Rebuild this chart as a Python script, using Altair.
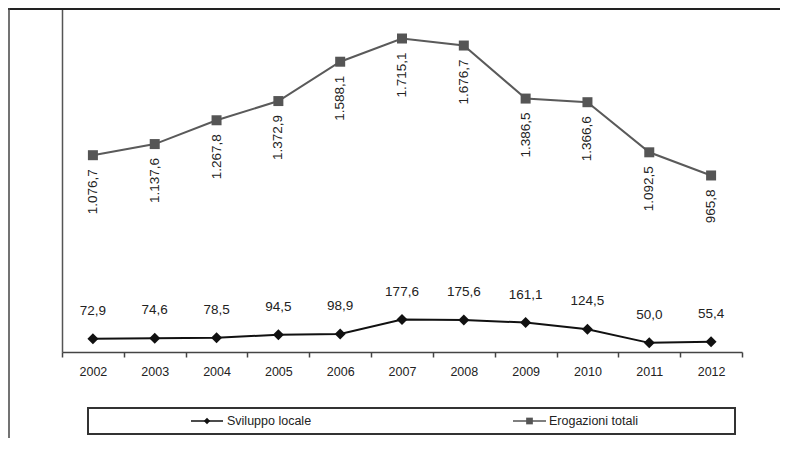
import altair as alt
import pandas as pd

FONT = "Liberation Sans"

years = ["2002", "2003", "2004", "2005", "2006", "2007", "2008", "2009", "2010", "2011", "2012"]
sviluppo = [72.9, 74.6, 78.5, 94.5, 98.9, 177.6, 175.6, 161.1, 124.5, 50.0, 55.4]
erogazioni = [1076.7, 1137.6, 1267.8, 1372.9, 1588.1, 1715.1, 1676.7, 1386.5, 1366.6, 1092.5, 965.8]
series_names = ["Sviluppo locale", "Erogazioni totali"]
series_colors = ["#111111", "#5a5a5a"]


def it_fmt(v):
    s = f"{v:,.1f}"
    return s.replace(",", "X").replace(".", ",").replace("X", ".")


rows = []
for name, vals in zip(series_names, [sviluppo, erogazioni]):
    for yr, v in zip(years, vals):
        rows.append({"year": yr, "series": name, "value": v, "label": it_fmt(v)})
df = pd.DataFrame(rows)

x = alt.X(
    "year:O",
    scale=alt.Scale(type="band", paddingInner=0, paddingOuter=0),
    bandPosition=0.5,
    axis=alt.Axis(
        title=None, labelAngle=0, tickBand="extent", tickSize=5, tickColor="#444",
        tickWidth=1.5, domainColor="#444", domainWidth=1.5, labelFont=FONT,
        labelFontSize=12.5, labelColor="#222", labelPadding=8,
    ),
)
y = alt.Y(
    "value:Q",
    scale=alt.Scale(domain=[0, 1882], nice=False, zero=False),
    axis=alt.Axis(title=None, labels=False, ticks=False, grid=False,
                  domainColor="#555", domainWidth=1.5),
)

color_scale = alt.Scale(domain=series_names, range=series_colors)
lines = alt.Chart(df).mark_line(strokeWidth=2).encode(
    x=x, y=y, color=alt.Color("series:N", scale=color_scale, legend=None)
)

sv = alt.Chart(df).transform_filter(alt.datum.series == series_names[0])
er = alt.Chart(df).transform_filter(alt.datum.series == series_names[1])

pts_sv = sv.mark_point(shape="diamond", filled=True, size=121, opacity=1, color="#111111").encode(x=x, y=y)
pts_er = er.mark_point(shape="square", filled=True, size=100, opacity=1, color="#555555").encode(x=x, y=y)

txt_sv = sv.mark_text(dy=-28, fontSize=13.5, font=FONT, color="#222", baseline="middle").encode(
    x=x, y=y, text="label:N"
)
txt_er = er.mark_text(angle=270, align="right", baseline="middle", dx=-14, fontSize=13.5,
                      font=FONT, color="#222").encode(x=x, y=y, text="label:N")

# ---- legend (drawn as a framed key below the plot) ----
one = pd.DataFrame({"k": [0]})
leg_box = alt.Chart(one).mark_rect(fill="white", stroke="#333", strokeWidth=2).encode(
    x=alt.value(26), x2=alt.value(673), y=alt.value(400), y2=alt.value(426)
)
leg_items = []
specs = [
    # (line start, line end, symbol centre, text start, shape, size, colour)
    (129, 161, 145, 165, "diamond", 40, "#111111"),
    (451, 484, 467.5, 487, "square", 45, "#555555"),
]
for name, (l0, l1, c, t0, shp, sz, col) in zip(series_names, specs):
    leg_items.append(alt.Chart(one).mark_rule(color=col, strokeWidth=1.5).encode(
        x=alt.value(l0), x2=alt.value(l1), y=alt.value(413)))
    leg_items.append(alt.Chart(one).mark_point(shape=shp, filled=True, size=sz, opacity=1, color=col).encode(
        x=alt.value(c), y=alt.value(413)))
    leg_items.append(alt.Chart(one).mark_text(align="left", baseline="middle", font=FONT, fontSize=12.5,
                                             color="#222").encode(
        x=alt.value(t0), y=alt.value(413), text=alt.value(name)))

# ---- outer frame ----
frame_top = alt.Chart(one).mark_rule(color="#222", strokeWidth=2).encode(
    x=alt.value(-54), x2=alt.value(730), y=alt.value(1)
)
frame_left = alt.Chart(one).mark_rule(color="#444", strokeWidth=1.5).encode(
    x=alt.value(-53), y=alt.value(0), y2=alt.value(430)
)

chart = alt.layer(
    frame_top, frame_left, lines, pts_sv, pts_er, txt_sv, txt_er, leg_box, *leg_items
).properties(
    width=680, height=344,
    padding={"left": 54, "top": 0, "right": 38, "bottom": 86},
    autosize="none", background="white",
).configure_view(stroke=None)

chart.save("out.html", embed_options={"renderer": "svg", "actions": False})
